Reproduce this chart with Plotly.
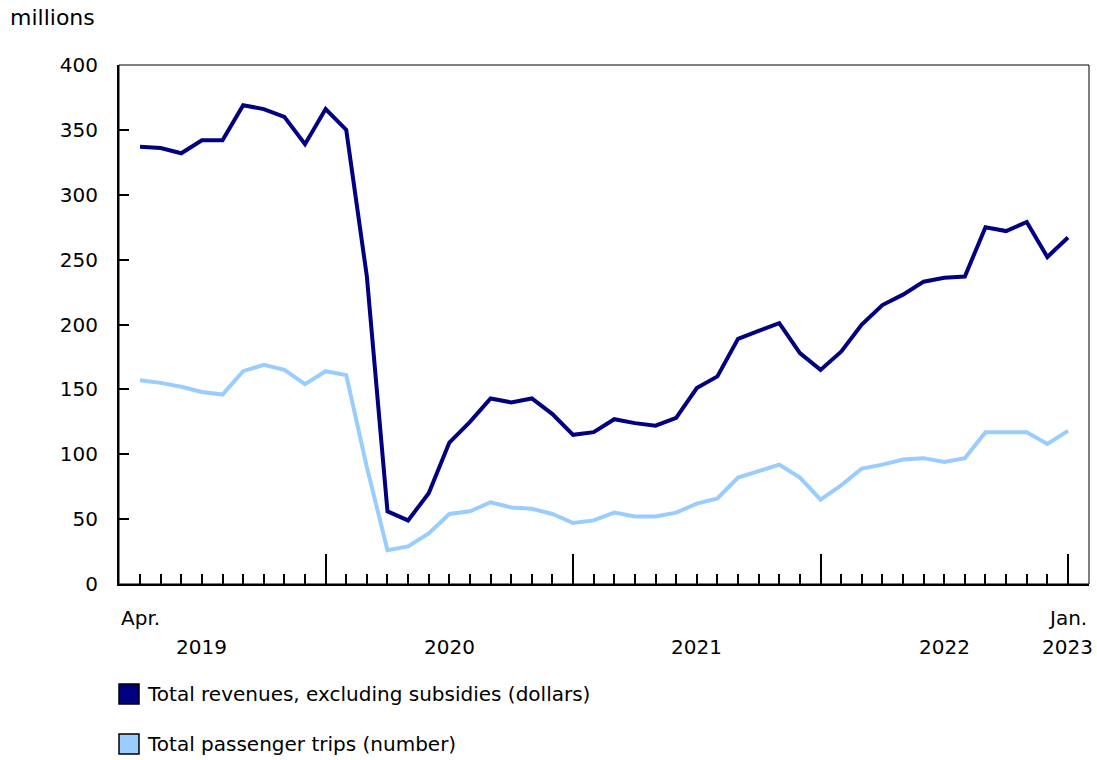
import plotly.graph_objects as go

months = ["Apr 2019","May 2019","Jun 2019","Jul 2019","Aug 2019","Sep 2019","Oct 2019","Nov 2019","Dec 2019",
          "Jan 2020","Feb 2020","Mar 2020","Apr 2020","May 2020","Jun 2020","Jul 2020","Aug 2020","Sep 2020","Oct 2020","Nov 2020","Dec 2020",
          "Jan 2021","Feb 2021","Mar 2021","Apr 2021","May 2021","Jun 2021","Jul 2021","Aug 2021","Sep 2021","Oct 2021","Nov 2021","Dec 2021",
          "Jan 2022","Feb 2022","Mar 2022","Apr 2022","May 2022","Jun 2022","Jul 2022","Aug 2022","Sep 2022","Oct 2022","Nov 2022","Dec 2022",
          "Jan 2023"]

revenues = [337, 336, 332, 342, 342, 369, 366, 360, 339,
            366, 350, 237, 56, 49, 70, 109, 125, 143, 140, 143, 131,
            115, 117, 127, 124, 122, 128, 151, 160, 189, 195, 201, 178,
            165, 179, 200, 215, 223, 233, 236, 237, 275, 272, 279, 252,
            267]

trips = [157, 155, 152, 148, 146, 164, 169, 165, 154,
         164, 161, 90, 26, 29, 39, 54, 56, 63, 59, 58, 54,
         47, 49, 55, 52, 52, 55, 62, 66, 82, 87, 92, 82,
         65, 76, 89, 92, 96, 97, 94, 97, 117, 117, 117, 108,
         118]

series_names = ["Total revenues, excluding subsidies (dollars)", "Total passenger trips (number)"]
series_colors = ["#000080", "#99CCFF"]

month_labels = ["Apr.", "Jan."]          # first-row tick labels
month_label_at = ["Apr 2019", "Jan 2023"]
year_labels = ["2019", "2020", "2021", "2022", "2023"]
year_label_at = ["Jul 2019", "Jul 2020", "Jul 2021", "Jul 2022", "Jan 2023"]
major_at = ["Jan 2020", "Jan 2021", "Jan 2022", "Jan 2023"]

idx = list(range(len(months)))
pos = {m: i for i, m in enumerate(months)}

FONT = "DejaVu Sans"
FS = 20
fig = go.Figure()
for name, vals, col in zip(series_names, [revenues, trips], series_colors):
    fig.add_trace(go.Scatter(x=idx, y=vals, mode="lines", name=name,
                             line=dict(color=col, width=4), showlegend=False))

L, R, T, B = 119, 8, 65, 176
W, H = 1097, 760
pw, ph = W - L - R, H - T - B

def px_x(p):
    return (p - L) / pw

def px_y(p):
    return (H - B - p) / ph

fig.update_layout(
    width=W, height=H,
    margin=dict(l=L, r=R, t=T, b=B),
    paper_bgcolor="white", plot_bgcolor="white",
    font=dict(family=FONT, size=FS, color="#000"),
    xaxis=dict(range=[-1.02, len(months) + 0.02], showgrid=False, zeroline=False,
               showline=True, linecolor="#000", linewidth=2,
               tickmode="array", tickvals=[pos[m] for m in major_at], ticks="inside",
               ticklen=30, tickwidth=1.5, tickcolor="#000", showticklabels=False,
               minor=dict(tick0=0, dtick=1, ticks="inside", ticklen=10, tickwidth=1.5, tickcolor="#000")),
    yaxis=dict(range=[0, 400], dtick=50, showgrid=False, zeroline=False,
               showline=True, linecolor="#000", linewidth=2,
               ticks="inside", ticklen=10, tickwidth=1.5, tickcolor="#000",
               ticklabelstandoff=15, tickfont=dict(size=FS, family=FONT)),
)

# frame
fig.add_shape(type="rect", xref="paper", yref="paper", x0=0, x1=1, y0=0, y1=1,
              line=dict(color="#000", width=1))

# x tick labels
for lab, m in zip(month_labels, month_label_at):
    fig.add_annotation(x=pos[m], xref="x", y=px_y(618), yref="paper", text=lab,
                       showarrow=False, xanchor="center", yanchor="middle", font=dict(size=FS))
for lab, m in zip(year_labels, year_label_at):
    fig.add_annotation(x=pos[m], xref="x", y=px_y(647), yref="paper", text=lab,
                       showarrow=False, xanchor="center", yanchor="middle", font=dict(size=FS))

# unit label
fig.add_annotation(x=px_x(8), xref="paper", y=px_y(17), yref="paper", text="millions",
                   showarrow=False, xanchor="left", yanchor="middle", font=dict(size=22))

# legend
for i, (name, col) in enumerate(zip(series_names, series_colors)):
    yc = 694 + i * 50
    fig.add_shape(type="rect", xref="paper", yref="paper",
                  x0=px_x(119), x1=px_x(139), y0=px_y(yc - 10), y1=px_y(yc + 10),
                  fillcolor=col, line=dict(color="#000", width=1.5))
    fig.add_annotation(x=px_x(145), xref="paper", y=px_y(yc), yref="paper", text=name,
                       showarrow=False, xanchor="left", yanchor="middle", font=dict(size=FS))

fig.write_html("out.html", config={"displayModeBar": False},
               post_script="document.body.style.margin='0';document.body.style.overflow='hidden';")
